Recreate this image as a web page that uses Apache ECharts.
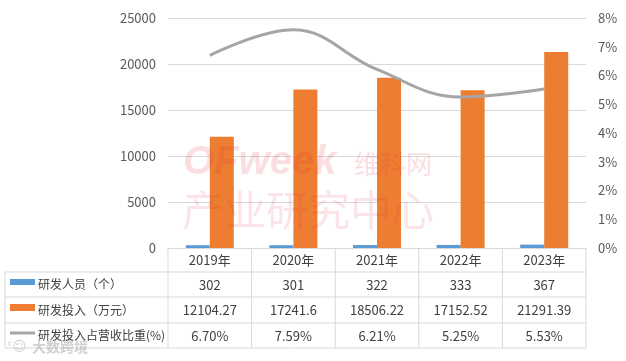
<!DOCTYPE html>
<html><head><meta charset="utf-8">
<script src="https://cdn.jsdelivr.net/npm/echarts@6/dist/echarts.min.js"></script>
<style>html,body{margin:0;padding:0;background:#fff}#c{width:626px;height:361px}</style>
</head><body><div id="c"></div>
<script>
const categories = ['2019年','2020年','2021年','2022年','2023年'];
const staff = [302, 301, 322, 333, 367];
const investment = [12104.27, 17241.6, 18506.22, 17152.52, 21291.39];
const ratio = [6.70, 7.59, 6.21, 5.25, 5.53];
const investLabels = ['12104.27','17241.6','18506.22','17152.52','21291.39'];
const ratioLabels = ['6.70%','7.59%','6.21%','5.25%','5.53%'];
const rowNames = ['研发人员（个）','研发投入（万元）','研发投入占营收比重(%)'];

const FONT = '"Microsoft YaHei","Noto Sans CJK SC",sans-serif';
const W = 626, H = 361;
const gl = 168, gr = 40, gt = 18, gb = 113;
const axisY = H - gb;           // 248
const rowLines = [272, 297, 323, 348];
const tableLeft = 5;
const lineColor = '#D9D9D9';
const txt = '#404040';

const chart = echarts.init(document.getElementById('c'));
const colW = (W - gl - gr) / categories.length;
const graphics = [];
rowLines.forEach(y => graphics.push({type:'line', shape:{x1:tableLeft,y1:y,x2:W-gr,y2:y}, style:{stroke:lineColor,lineWidth:1}, z:1}));
graphics.push({type:'line', shape:{x1:tableLeft,y1:rowLines[0],x2:tableLeft,y2:rowLines[3]}, style:{stroke:lineColor,lineWidth:1}});
for (let i = 0; i <= categories.length; i++) {
  const x = gl + i * colW;
  graphics.push({type:'line', shape:{x1:x,y1:axisY,x2:x,y2:rowLines[3]}, style:{stroke:lineColor,lineWidth:1}});
}
// legend keys
graphics.push({type:'rect', shape:{x:10,y:279,width:25,height:6}, style:{fill:'#5B9BD5'}});
graphics.push({type:'rect', shape:{x:10,y:304,width:25,height:7}, style:{fill:'#ED7D31'}});
graphics.push({type:'line', shape:{x1:10,y1:333,x2:35,y2:333}, style:{stroke:'#A5A5A5',lineWidth:3}});
rowNames.forEach((n, i) => {
  graphics.push({type:'text', x:38, y:(rowLines[i]+rowLines[i+1])/2, style:{text:n, fill:txt, font:'12px '+FONT, textVerticalAlign:'middle', textBaseline:'middle'}});
});
// watermarks
graphics.push({type:'text', x:183, y:163, z:100, style:{text:'OFweek', fill:'rgba(225,50,70,0.16)', font:'italic bold 40px Arial, "Liberation Sans", sans-serif', textBaseline:'middle', textVerticalAlign:'middle'}});
graphics.push({type:'text', x:354, y:164, z:100, style:{text:'维科网', fill:'rgba(225,50,70,0.16)', font:'26px "Noto Sans CJK SC"', textBaseline:'middle', textVerticalAlign:'middle'}});
graphics.push({type:'text', x:182, y:210, z:100, style:{text:'产业研究中心', fill:'rgba(225,50,70,0.13)', font:'42px "Noto Sans CJK SC"', textBaseline:'middle', textVerticalAlign:'middle'}});
graphics.push({type:'text', x:32, y:347, z:100, style:{text:'大数跨境', fill:'rgba(150,150,150,0.45)', font:'bold 14px "Noto Sans CJK SC"', textBaseline:'middle', textVerticalAlign:'middle'}});
graphics.push({type:'text', x:8, y:347, z:100, style:{text:'ᵗ☺', fill:'rgba(150,150,150,0.45)', font:'14px "DejaVu Sans"', textBaseline:'middle', textVerticalAlign:'middle'}});

function rowAxis(offset, labels) {
  return {type:'category', data:categories, gridIndex:0, position:'bottom', offset:offset,
    axisLine:{show:false}, axisTick:{show:false}, splitLine:{show:false},
    axisLabel:{margin:6, color:txt, fontSize:13, fontFamily:FONT, formatter:(v, i) => String(labels[i])}};
}

chart.setOption({
  animation:false,
  backgroundColor:'#fff',
  grid:{left:gl, right:gr, top:gt, bottom:gb},
  xAxis:[
    {type:'category', data:categories, position:'bottom',
      axisLine:{show:true, lineStyle:{color:lineColor}}, axisTick:{show:false},
      axisLabel:{margin:6, color:txt, fontSize:13, fontFamily:FONT}},
    rowAxis(25, staff),
    rowAxis(50, investLabels),
    rowAxis(76, ratioLabels)
  ],
  yAxis:[
    {type:'value', min:0, max:25000, interval:5000,
      axisLine:{show:false}, axisTick:{show:false},
      splitLine:{lineStyle:{color:lineColor}},
      axisLabel:{margin:12, color:'#595959', fontSize:13, fontFamily:FONT, formatter:v => String(v)}},
    {type:'value', min:0, max:0.08, interval:0.01,
      axisLine:{show:false}, axisTick:{show:false}, splitLine:{show:false},
      axisLabel:{margin:12, color:'#595959', fontSize:13, fontFamily:FONT, formatter:v => Math.round(v*100)+'%'}}
  ],
  graphic:graphics,
  series:[
    {name:rowNames[0], type:'bar', data:staff, barWidth:24, barGap:'0%', itemStyle:{color:'#5B9BD5'}},
    {name:rowNames[1], type:'bar', data:investment, barWidth:24, barGap:'0%', itemStyle:{color:'#ED7D31'}},
    {name:rowNames[2], type:'line', yAxisIndex:1, data:ratio.map(v => v/100), smooth:0.4, showSymbol:false, symbol:'none',
      lineStyle:{color:'#A5A5A5', width:3}, itemStyle:{color:'#A5A5A5'}}
  ]
});
</script></body></html>
